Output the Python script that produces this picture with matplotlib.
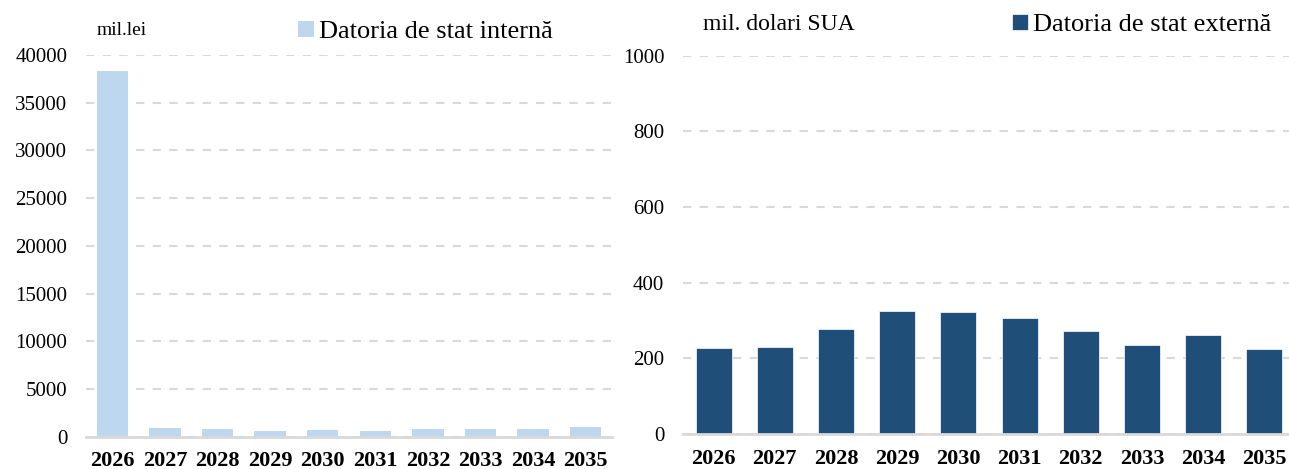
import matplotlib
matplotlib.use("Agg")
import matplotlib.pyplot as plt
import numpy as np

plt.rcParams['font.family'] = ['Liberation Serif', 'DejaVu Serif']

# date
ani = ['2026', '2027', '2028', '2029', '2030', '2031', '2032', '2033', '2034', '2035']
datoria_interna = [38300, 880, 780, 600, 700, 565, 805, 840, 790, 970]
datoria_externa = [228, 231, 278, 326, 322, 306, 272, 234, 261, 224]

fig = plt.figure(figsize=(12.89, 4.69), dpi=100)
W, H = 1289, 469

def setup(ax, ylim, step):
    ax.set_xlim(-0.5, 9.5)
    ax.set_ylim(0, ylim)
    ax.set_yticks(np.arange(0, ylim + 1, step))
    for s in ['top', 'right', 'left']:
        ax.spines[s].set_visible(False)
    ax.spines['bottom'].set_color('#d9d9d9')
    ax.spines['bottom'].set_linewidth(2)
    ax.yaxis.grid(True, linestyle=(0, (4, 4)), color='#d9d9d9', linewidth=1.5)
    ax.set_axisbelow(True)
    ax.tick_params(length=0)
    ax.tick_params(axis='y', labelsize=15, pad=13.5)
    ax.tick_params(axis='x', pad=10.5)
    ax.set_xticks(range(len(ani)))
    ax.set_xticklabels(ani, fontsize=16, fontweight='bold')

# stanga
ax1 = fig.add_axes([86 / W, (H - 436.7) / H, (612 - 86) / W, (436.7 - 55) / H])
x = np.arange(len(ani))
ax1.bar(x, datoria_interna, width=0.6, color='#bdd7ee', label='Datoria de stat internă')
setup(ax1, 40000, 5000)
fig.text(97 / W, 1 - 30 / H, 'mil.lei', fontsize=14, va='center', ha='left')
ax1.legend(loc='center left', bbox_to_anchor=(298 / W, 1 - 32 / H), bbox_transform=fig.transFigure,
           frameon=False, fontsize=19, handlelength=0.6, handleheight=0.6, handletextpad=0.2,
           borderpad=0, borderaxespad=0)

# dreapta
ax2 = fig.add_axes([683 / W, (H - 434) / H, (683 + 612) / W - 683 / W, (434 - 55.7) / H])
ax2.bar(x, datoria_externa, width=0.59, color='#1f4e79', edgecolor='white', linewidth=0.5,
        label='Datoria de stat externă')
setup(ax2, 1000, 200)
fig.text(703 / W, 1 - 25 / H, 'mil. dolari SUA', fontsize=17, va='center', ha='left')
ax2.legend(loc='center left', bbox_to_anchor=(1012 / W, 1 - 25 / H), bbox_transform=fig.transFigure,
           frameon=False, fontsize=19, handlelength=0.6, handleheight=0.6, handletextpad=0.2,
           borderpad=0, borderaxespad=0)

fig.savefig('out.png', dpi=100)
